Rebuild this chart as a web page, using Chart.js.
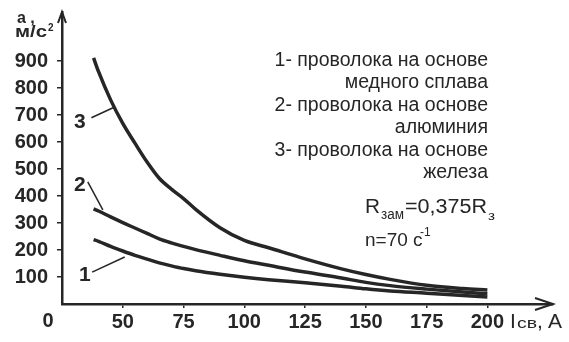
<!DOCTYPE html>
<html>
<head>
<meta charset="utf-8">
<script src="https://cdn.jsdelivr.net/npm/chart.js@4/dist/chart.umd.min.js"></script>
<style>
body { margin: 0; background: #fff; }
canvas { display: block; }
</style>
</head>
<body>
<canvas id="chart" width="569" height="342"></canvas>
<script>
// Ток сварки Iсв, А
const current = [38, 40, 45, 50, 55, 60, 65, 70, 75, 80, 90, 100, 110, 125, 140, 150, 160, 175, 190, 200];
// Ускорение a, м/с2
const accelCopper = [238, 232, 213, 196, 180, 166, 152, 141, 131, 123, 110, 99, 90, 79, 66, 56, 48, 40, 31, 26];
const accelAluminium = [352, 344, 322, 301, 281, 261, 241, 226, 213, 201, 180, 160, 143, 118, 96, 80, 68, 55, 44, 38];
const accelIron = [910, 860, 755, 668, 595, 525, 465, 425, 390, 350, 282, 235, 208, 167, 130, 109, 91, 69, 57, 52];

const xTicks = [50, 75, 100, 125, 150, 175, 200];
const yTicks = [100, 200, 300, 400, 500, 600, 700, 800, 900];

const legendLines = [
    '1- проволока на основе',
    'медного сплава',
    '2- проволока на основе',
    'алюминия',
    '3- проволока на основе',
    'железа'
];

// номера кривых и выноски (в единицах осей)
const curveTags = [
    { text: '1', at: [34.4, 107], from: [37.4, 118], to: [50.8, 174] },
    { text: '2', at: [32.3, 441], from: [35.6, 452], to: [41.8, 348] },
    { text: '3', at: [32.3, 674], from: [37.1, 689], to: [46, 726] }
];

const INK = '#262626';
const FONT = "'Liberation Sans', Arial, sans-serif";

function toPoints(xs, ys) {
    return xs.map((v, i) => ({ x: v, y: ys[i] }));
}

function curve(data) {
    return {
        data: data,
        borderColor: INK,
        borderWidth: 3.5,
        pointRadius: 0,
        cubicInterpolationMode: 'monotone',
        fill: false
    };
}

// текст, растянутый по ширине от x0 до x1
function fitText(ctx, text, x0, x1, y) {
    const w = ctx.measureText(text).width;
    ctx.save();
    ctx.translate(x0, y);
    ctx.scale((x1 - x0) / w, 1);
    ctx.fillText(text, 0, 0);
    ctx.restore();
}

const textPlugin = {
    id: 'texts',
    beforeDraw(chart) {
        const ctx = chart.ctx;
        ctx.save();
        ctx.fillStyle = '#fff';
        ctx.fillRect(0, 0, chart.width, chart.height);
        ctx.restore();
    },
    afterDraw(chart) {
        const { ctx, chartArea } = chart;
        const sx = chart.scales.x, sy = chart.scales.y;
        ctx.save();
        ctx.fillStyle = INK;
        ctx.strokeStyle = INK;

        // стрелки осей
        ctx.lineWidth = 2;
        ctx.beginPath();
        ctx.moveTo(chartArea.left - 4, chartArea.top + 11);
        ctx.lineTo(chartArea.left, chartArea.top);
        ctx.lineTo(chartArea.left + 4, chartArea.top + 11);
        ctx.stroke();
        ctx.beginPath();
        ctx.moveTo(chartArea.right - 18, chartArea.bottom - 6);
        ctx.lineTo(chartArea.right, chartArea.bottom);
        ctx.lineTo(chartArea.right - 18, chartArea.bottom + 6);
        ctx.stroke();

        // подписи делений
        ctx.font = 'bold 20px ' + FONT;
        ctx.textAlign = 'right';
        ctx.textBaseline = 'middle';
        yTicks.forEach(v => ctx.fillText(String(v), 48, sy.getPixelForValue(v) + 1));
        ctx.textAlign = 'center';
        ctx.textBaseline = 'alphabetic';
        xTicks.forEach(v => ctx.fillText(String(v), sx.getPixelForValue(v), 328));
        ctx.fillText('0', 48, 327);

        // подпись оси Y
        ctx.textAlign = 'left';
        ctx.font = 'bold 16px ' + FONT;
        ctx.fillText('a ,', 17, 23);
        ctx.font = 'bold 16px ' + FONT;
        fitText(ctx, 'м/с', 15, 47, 37);
        ctx.font = 'bold 10px ' + FONT;
        ctx.fillText('2', 48, 31);

        // подпись оси X
        ctx.font = '21px ' + FONT;
        ctx.fillText('I', 510, 328);
        ctx.font = '14px ' + FONT;
        fitText(ctx, 'св', 517, 537, 328);
        ctx.font = '21px ' + FONT;
        ctx.fillText(',', 537, 328);
        ctx.fillText('A', 548, 328);

        // пояснения к кривым
        ctx.textAlign = 'right';
        ctx.font = '19.5px ' + FONT;
        legendLines.forEach((line, i) => {
            ctx.fillText(line, 488, 66 + i * 22.4);
        });

        ctx.textAlign = 'left';
        ctx.font = '20px ' + FONT;
        fitText(ctx, 'R', 365, 380, 213);
        ctx.font = '14px ' + FONT;
        fitText(ctx, 'зам', 381, 404, 219);
        ctx.font = '20px ' + FONT;
        fitText(ctx, '=0,375R', 405, 487, 213);
        ctx.font = '13px ' + FONT;
        fitText(ctx, 'з', 488, 495, 220);
        ctx.font = '19px ' + FONT;
        ctx.fillText('n=70 с', 365, 246);
        ctx.font = '12px ' + FONT;
        ctx.fillText('-1', 420, 236);

        // номера кривых
        ctx.lineWidth = 1.5;
        ctx.textAlign = 'center';
        ctx.textBaseline = 'middle';
        ctx.font = 'bold 21px ' + FONT;
        curveTags.forEach(t => {
            ctx.fillText(t.text, sx.getPixelForValue(t.at[0]), sy.getPixelForValue(t.at[1]));
            ctx.beginPath();
            ctx.moveTo(sx.getPixelForValue(t.from[0]), sy.getPixelForValue(t.from[1]));
            ctx.lineTo(sx.getPixelForValue(t.to[0]), sy.getPixelForValue(t.to[1]));
            ctx.stroke();
        });
        ctx.restore();
    }
};

new Chart(document.getElementById('chart'), {
    type: 'line',
    data: {
        datasets: [
            curve(toPoints(current, accelCopper)),
            curve(toPoints(current, accelAluminium)),
            curve(toPoints(current, accelIron))
        ]
    },
    options: {
        responsive: false,
        animation: false,
        layout: { padding: { top: 12, right: 16, left: 0, bottom: 0 } },
        plugins: { legend: { display: false }, tooltip: { enabled: false } },
        scales: {
            x: {
                type: 'linear',
                min: 25,
                max: 227,
                afterBuildTicks: s => { s.ticks = xTicks.map(v => ({ value: v })); },
                afterFit: s => { s.height = 38; },
                grid: { drawOnChartArea: false, drawTicks: true, tickLength: 4, color: INK, lineWidth: 1.5 },
                border: { display: true, color: INK, width: 2.5 },
                ticks: { display: false }
            },
            y: {
                min: 0,
                max: 1080,
                afterBuildTicks: s => { s.ticks = yTicks.map(v => ({ value: v })); },
                afterFit: s => { s.width = 62; },
                grid: { drawOnChartArea: false, drawTicks: true, tickLength: 5, color: INK, lineWidth: 1.5 },
                border: { display: true, color: INK, width: 2.5 },
                ticks: { display: false }
            }
        }
    },
    plugins: [textPlugin]
});
</script>
</body>
</html>
